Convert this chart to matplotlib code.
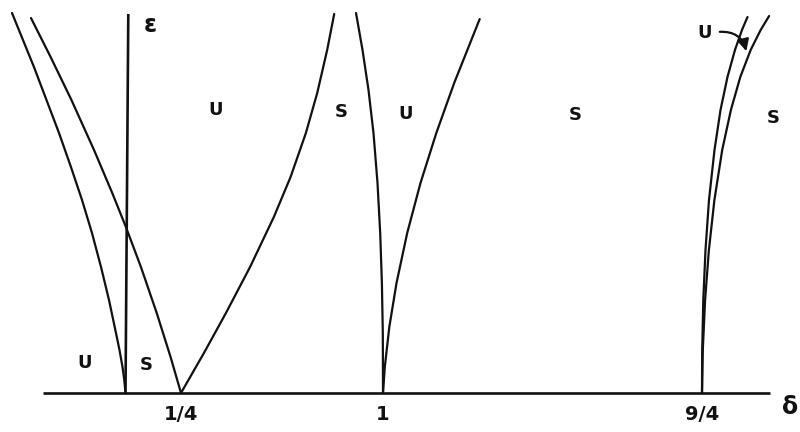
import numpy as np
import matplotlib
matplotlib.use("Agg")
import matplotlib.pyplot as plt
from matplotlib.patches import FancyArrowPatch

# Transition curves of the stability chart, as (delta, epsilon) samples
curve_zero_delta = [-0.5113, -0.4122, -0.2995, -0.2455, -0.1959, -0.1509, -0.1104,
                    -0.0743, -0.0428, -0.0270, -0.0135, -0.0054, 0.0]
curve_zero_eps = [1.504, 1.290, 1.029, 0.894, 0.764, 0.633, 0.499,
                  0.368, 0.237, 0.170, 0.103, 0.051, 0.0]

quarter_left_delta = [-0.4257, -0.3374, -0.2437, -0.1419, -0.0599, 0.0018, 0.0694,
                      0.1405, 0.2032, 0.25]
quarter_left_eps = [1.484, 1.330, 1.160, 0.962, 0.792, 0.657, 0.499, 0.317, 0.142, 0.0]

quarter_right_delta = [0.25, 0.3350, 0.4171, 0.5066, 0.5949, 0.6569, 0.7137, 0.7557,
                       0.7928, 0.8188]
quarter_right_eps = [0.0, 0.158, 0.317, 0.499, 0.697, 0.855, 1.029, 1.187, 1.358, 1.500]

one_left_delta = [0.8998, 0.9239, 0.9462, 0.9647, 0.9796, 0.9896, 0.9959, 0.9993, 1.0]
one_left_eps = [1.504, 1.358, 1.199, 1.029, 0.831, 0.633, 0.435, 0.237, 0.0]

one_right_delta = [1.0, 1.0071, 1.0247, 1.0529, 1.0948, 1.1469, 1.2089, 1.2790, 1.3789]
one_right_eps = [0.0, 0.103, 0.261, 0.435, 0.633, 0.831, 1.029, 1.227, 1.480]

nine_left_delta = [2.25, 2.2508, 2.2551, 2.2637, 2.2774, 2.2990, 2.3225, 2.3499,
                   2.3793, 2.4067, 2.4283]
nine_left_eps = [0.0, 0.170, 0.368, 0.566, 0.764, 0.962, 1.120, 1.251, 1.358, 1.437, 1.488]

nine_right_delta = [2.25, 2.2531, 2.2621, 2.2770, 2.2986, 2.3292, 2.3632, 2.4001,
                    2.4408, 2.4800, 2.5129]
nine_right_eps = [0.0, 0.170, 0.368, 0.566, 0.764, 0.962, 1.120, 1.251, 1.358, 1.437, 1.492]

# Tick marks on the delta axis
tick_values = [0.25, 1.0, 2.25]
tick_labels = ["1/4", "1", "9/4"]

# Region labels: S = stable, U = unstable
region_delta = [0.38, 0.844, 1.090, 1.752, 2.528, -0.1824, 0.0923]
region_eps = [1.120, 1.112, 1.104, 1.100, 1.088, 0.119, 0.111]
region_text = ["U", "S", "U", "S", "S", "U", "S"]

# The delta axis is drawn schematically: piecewise-linear spacing between key values
DELTA_KNOTS = np.array([-1.0, 0.0, 0.25, 1.0, 2.25, 3.0])
AXIS_SPACING = np.array([-96.5, 125.5, 181.0, 383.0, 702.0, 893.4])


def forward(d):
    return np.interp(d, DELTA_KNOTS, AXIS_SPACING)


def inverse(p):
    return np.interp(p, AXIS_SPACING, DELTA_KNOTS)


fig = plt.figure(figsize=(8.0, 4.32), dpi=100)
ax = fig.add_axes([0, 0, 1, 1])
ax.set_xscale("function", functions=(forward, inverse))
ax.set_xlim(-0.5653, 2.634)
ax.set_ylim(-0.1544, 1.5554)
ax.axis("off")

ink = "#111111"
lw_curve = 1.6
lw_axis = 1.9

# Coordinate axes
ax.plot([-0.3716, 2.5165], [0, 0], color=ink, lw=lw_axis, solid_capstyle="butt")
ax.plot([0, 0.0126], [0, 1.5], color=ink, lw=lw_axis, solid_capstyle="butt")

for xs, ys in [
    (curve_zero_delta, curve_zero_eps),
    (quarter_left_delta, quarter_left_eps),
    (quarter_right_delta, quarter_right_eps),
    (one_left_delta, one_left_eps),
    (one_right_delta, one_right_eps),
    (nine_left_delta, nine_left_eps),
    (nine_right_delta, nine_right_eps),
]:
    ax.plot(xs, ys, color=ink, lw=lw_curve, solid_joinstyle="round", solid_capstyle="round")

font = dict(family="DejaVu Sans", color=ink, fontweight="bold")
for d, e, t in zip(region_delta, region_eps, region_text):
    ax.text(d, e, t, fontsize=13, ha="center", va="center", **font)

for v, lab in zip(tick_values, tick_labels):
    ax.text(v, -0.087, lab, fontsize=14, ha="center", va="center", **font)

ax.text(2.595, -0.055, "δ", fontsize=17, ha="center", va="center", **font)
ax.text(0.110, 1.456, "ε", fontsize=17, ha="center", va="center", **font)

# Pointer to the narrow unstable tongue near delta = 9/4
ax.text(2.262, 1.425, "U", fontsize=13, ha="center", va="center", **font)
arrow = FancyArrowPatch((2.3088, 1.4287), (2.4263, 1.342),
                        connectionstyle="arc3,rad=-0.45",
                        arrowstyle="-|>,head_length=7,head_width=3.5",
                        color=ink, lw=1.6)
ax.add_patch(arrow)

fig.savefig("out.png", dpi=100, facecolor="white")
